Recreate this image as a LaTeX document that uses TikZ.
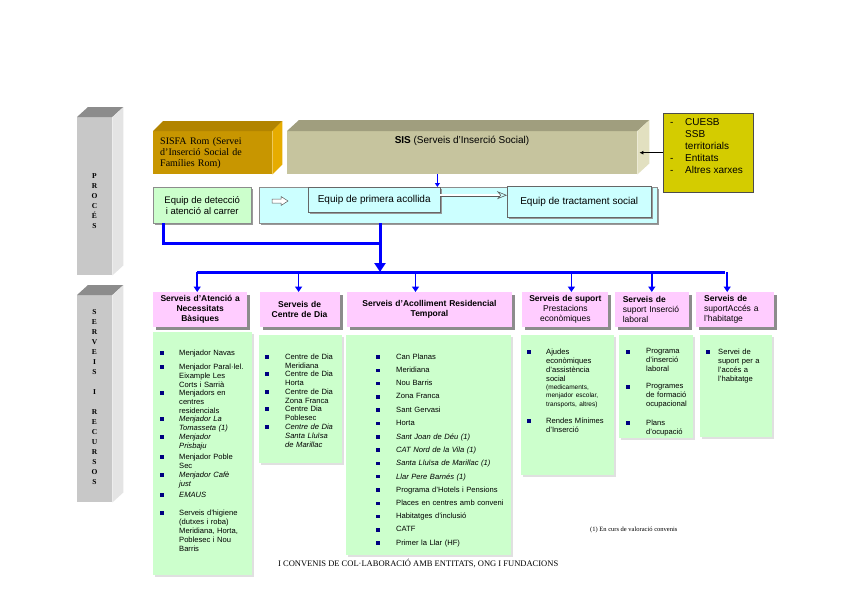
\documentclass[tikz,border=0pt]{standalone}
\usepackage{fontspec}
\setmainfont{Liberation Serif}
\setsansfont{Liberation Sans}
\usetikzlibrary{positioning,arrows.meta,shadows}

\definecolor{pinkhdr}{RGB}{255,204,255}
\definecolor{greenbody}{RGB}{204,255,204}
\definecolor{cyanfill}{RGB}{204,255,255}
\definecolor{yellowfill}{RGB}{212,204,0}
\definecolor{goldfront}{RGB}{200,150,0}
\definecolor{goldtop}{RGB}{178,132,0}
\definecolor{goldside}{RGB}{230,172,0}
\definecolor{khakifront}{RGB}{198,196,158}
\definecolor{khakitop}{RGB}{160,158,126}
\definecolor{khakiside}{RGB}{226,224,192}
\definecolor{barfront}{RGB}{200,200,200}
\definecolor{bartop}{RGB}{140,140,140}
\definecolor{barside}{RGB}{228,228,228}
\definecolor{bulletblue}{RGB}{0,0,128}

\begin{document}
\begin{tikzpicture}[
    x=1pt, y=-1pt,
    every node/.style={font=\sffamily},
    hdr/.style={fill=pinkhdr, minimum height=35pt, inner sep=3pt, align=center, anchor=north west,
        font=\sffamily\fontsize{8.5}{10}\selectfont,
        drop shadow={shadow xshift=3pt, shadow yshift=-3pt, fill=black!45, opacity=1}},
    body/.style={fill=greenbody, anchor=north west, inner sep=0pt,
        drop shadow={shadow xshift=1.5pt, shadow yshift=-1.5pt, fill=black!12, opacity=1}},
    item/.style={anchor=north west, inner sep=0pt, text width=80pt, align=left, font=\sffamily\fontsize{7.6}{9}\selectfont},
    bul/.style={fill=bulletblue, minimum size=3.5pt, inner sep=0pt},
    barbox/.style={fill=barfront, anchor=north west, inner sep=0pt},
    barlabel/.style={text width=20pt, align=center, inner sep=0pt, font=\rmfamily\bfseries\fontsize{7.5}{10}\selectfont},
    goldbox/.style={fill=goldfront, anchor=north west, inner xsep=7pt, text width=105pt, align=left, font=\rmfamily\fontsize{10}{11}\selectfont},
    khakibox/.style={fill=khakifront, anchor=north west, inner sep=0pt},
    extbox/.style={fill=yellowfill, draw=black!70, anchor=north west, inner sep=0pt},
    teambox/.style={fill=cyanfill, draw=black!60, anchor=north west, align=center, font=\sffamily\fontsize{10}{12}\selectfont,
        drop shadow={shadow xshift=2pt, shadow yshift=-2pt, fill=black!40, opacity=1}},
    busline/.style={draw=blue, line width=3pt},
    bigarrow/.style={draw=blue, line width=3pt, -{Triangle[length=9pt,width=11pt]}},
    droparrow/.style={draw=blue, line width=1.6pt, -{Triangle[length=5.5pt,width=7pt]}},
    thinarrow/.style={draw=blue, line width=1.6pt, -{Triangle[length=4pt,width=5pt]}},
    dblarrow/.style={draw=black!65, line width=0.6pt, double=white, double distance=2pt, -{Stealth[open, length=10pt, width=8pt]}}
]
\fill[white] (0,0) rectangle (848,600);
\useasboundingbox (0,0) rectangle (848,600);

% Side bars
\node[barbox, minimum width=35, minimum height=158] (procesBar) at (77,117) {};
\fill[bartop] (procesBar.north west) -- ++(11,-10) -- ([shift={(11,-10)}]procesBar.north east) -- (procesBar.north east) -- cycle;
\fill[barside] (procesBar.north east) -- ++(11,-10) -- ([shift={(11,-10)}]procesBar.south east) -- (procesBar.south east) -- cycle;
\node[barlabel] (procesTxt) at (94.5,201) {P\\R\\O\\C\\É\\S};

\node[barbox, minimum width=35, minimum height=207] (serveisBar) at (77,295) {};
\fill[bartop] (serveisBar.north west) -- ++(11,-10) -- ([shift={(11,-10)}]serveisBar.north east) -- (serveisBar.north east) -- cycle;
\fill[barside] (serveisBar.north east) -- ++(11,-10) -- ([shift={(11,-10)}]serveisBar.south east) -- (serveisBar.south east) -- cycle;
\node[barlabel] (serveisTxt) at (94.5,397) {S\\E\\R\\V\\E\\I\\S\\[10pt]I\\[10pt]R\\E\\C\\U\\R\\S\\O\\S};

% Top row
\node[goldbox, minimum width=119, minimum height=43] (sisfa) at (153,131) {SISFA Rom (Servei\\d'Inserció Social de\\Famílies Rom)};
\fill[goldtop] (sisfa.north west) -- ++(10,-10) -- ([shift={(10,-10)}]sisfa.north east) -- (sisfa.north east) -- cycle;
\fill[goldside] (sisfa.north east) -- ++(10,-10) -- ([shift={(10,-10)}]sisfa.south east) -- (sisfa.south east) -- cycle;

\node[khakibox, minimum width=350, minimum height=43] (sis) at (287,131) {};
\fill[khakitop] (sis.north west) -- ++(12,-11) -- ([shift={(12,-11)}]sis.north east) -- (sis.north east) -- cycle;
\fill[khakiside] (sis.north east) -- ++(12,-11) -- ([shift={(12,-11)}]sis.south east) -- (sis.south east) -- cycle;
\node[font=\sffamily\fontsize{10}{12}\selectfont] (sisTxt) at (462,141) {\textbf{SIS} (Serveis d'Inserció Social)};

\node[extbox, minimum width=90, minimum height=79] (xarxes) at (663,113) {};
\node[anchor=north west, inner sep=0pt, font=\sffamily\fontsize{10}{12}\selectfont] (xarxesTxt) at (670,117)
    {\begin{tabular}{@{}p{15pt}@{}l@{}}- & CUESB\\ & SSB\\ & territorials\\- & Entitats\\- & Altres xarxes\end{tabular}};

% Team row
\node[teambox, fill=greenbody, draw=black!45, minimum width=98, minimum height=36, font=\sffamily\fontsize{9.5}{11}\selectfont] (detec) at (153,187) {Equip de detecció\\i atenció al carrer};
\node[teambox, draw=black!45, minimum width=398, minimum height=36] (acollida) at (259,187) {};
\draw[fill=white, draw=black!65, line width=0.5pt] (272,199) -- (281,199) -- (281,196.5) -- (288,201) -- (281,205.5) -- (281,203) -- (272,203) -- cycle;
\node[teambox, minimum width=132, minimum height=25] (primera) at (308,187) {Equip de primera acollida};
\node[teambox, minimum width=144, minimum height=31] (tractament) at (507,186) {Equip de tractament social};

% Headers
\node[hdr, text width=88] (h1) at (153,292) {\bfseries Serveis d'Atenció a\\Necessitats\\Bàsiques};
\node[hdr, text width=74, right=12pt of h1] (h2) {\bfseries Serveis de\\Centre de Dia};
\node[hdr, text width=159, right=7pt of h2] (h3) {\bfseries Serveis d'Acolliment Residencial\\Temporal};
\node[hdr, text width=80, right=10pt of h3] (h4) {\textbf{Serveis de suport}\\Prestacions\\econòmiques};
\node[hdr, align=left, inner xsep=8pt, text width=58, right=6pt of h4] (h5) {\textbf{Serveis de}\\suport Inserció\\laboral};
\node[hdr, align=left, inner xsep=8pt, text width=62, right=7pt of h5] (h6) {\textbf{Serveis de}\\suportAccés a\\l'habitatge};

% Bodies
\node[body, minimum width=99, minimum height=243] (b1) at (153,332) {};
\node[body, minimum width=83, minimum height=128] (b2) at (259,335) {};
\node[body, minimum width=165, minimum height=220] (b3) at (346,335) {};
\node[body, minimum width=93, minimum height=140] (b4) at (521,335) {};
\node[body, minimum width=74, minimum height=103] (b5) at (619,335) {};
\node[body, minimum width=72, minimum height=102] (b6) at (700,335) {};

% Items
\foreach \yc/\txt [count=\i] in {
    353/{Menjador Navas},
    367/{Menjador Paral·lel.\\Eixample Les\\Corts i Sarrià},
    393/{Menjadors en\\centres\\residencials},
    419/{\itshape Menjador La\\Tomasseta (1)},
    437/{\itshape Menjador\\Prisbaju},
    457/{Menjador Poble\\Sec},
    475/{\itshape Menjador Cafè\\just},
    495/{\itshape EMAUS},
    513/{Serveis d'higiene\\(dutxes i roba)\\Meridiana, Horta,\\Poblesec i Nou\\Barris}}{
    \node[bul] (bulA\i) at (162,\yc) {};
    \node[item] (itemA\i) at (179,\yc-3.5) {\txt};
}
\foreach \yc/\txt [count=\i] in {
    357/{Centre de Dia\\Meridiana},
    374/{Centre de Dia\\Horta},
    392/{Centre de Dia\\Zona Franca},
    409/{Centre Dia\\Poblesec},
    427/{\itshape Centre de Dia\\Santa Lluïsa\\de Marillac}}{
    \node[bul] (bulB\i) at (267,\yc) {};
    \node[item] (itemB\i) at (285,\yc-3.5) {\txt};
}
\foreach \txt [count=\i] in {Can Planas, Meridiana, Nou Barris, Zona Franca, Sant Gervasi, Horta,
    {\itshape Sant Joan de Déu (1)}, {\itshape CAT Nord de la Vila (1)}, {\itshape Santa Lluïsa de Marillac (1)},
    {\itshape Llar Pere Barnés (1)}, Programa d'Hotels i Pensions, Places en centres amb conveni,
    Habitatges d'inclusió, CATF, Primer la Llar (HF)}{
    \node[bul] (bulC\i) at (378,357+\i*13.3-13.3) {};
    \node[item, text width=110pt] (itemC\i) at (396,357+\i*13.3-13.3-3.5) {\txt};
}
\node[bul] (bulD1) at (529,352) {};
\node[item] (itemD1) at (546,348.5) {Ajudes\\econòmiques\\d'assistència\\social\par
    \fontsize{6.5}{8}\selectfont(medicaments,\\menjador escolar,\\transports, altres)};
\node[bul] (bulD2) at (529,421) {};
\node[item] (itemD2) at (546,417.5) {Rendes Mínimes\\d'Inserció};
\foreach \yc/\txt [count=\i] in {
    352/{Programa\\d'inserció\\laboral},
    387/{Programes\\de formació\\ocupacional},
    423/{Plans\\d'ocupació}}{
    \node[bul] (bulE\i) at (628,\yc) {};
    \node[item] (itemE\i) at (646,\yc-3.5) {\txt};
}
\node[bul] (bulF1) at (708,352) {};
\node[item] (itemF1) at (718,348.5) {Servei de\\suport per a\\l'accés a\\l'habitatge};

% Connectors
\draw[-{Latex[length=4pt,width=4pt]}, line width=0.8pt] (xarxes.west) -- ([xshift=2pt]sis.east |- xarxes.west);
\draw[thinarrow] ([xshift=-3pt]primera.north east |- sis.south) -- ([xshift=-3pt]primera.north east);
\draw[dblarrow] ([yshift=4.5pt]primera.east) -- ([yshift=4.5pt]primera.east -| tractament.west);

\coordinate (join) at (380,243);
\coordinate (busL) at (197,272);
\coordinate (busR) at (725,272);
\draw[busline] ([xshift=10pt]detec.south west) |- (join);
\draw[bigarrow] (acollida.south -| join) -- (join |- busL);
\draw[busline] (busL) -- (busR);
\draw[droparrow] ([xshift=-3pt]h1.north |- busL) -- ([xshift=-3pt]h1.north);
\draw[droparrow] ([xshift=-1pt]h2.north |- busL) -- ([xshift=-1pt]h2.north);
\draw[droparrow] ([xshift=-14pt]h3.north |- busL) -- ([xshift=-14pt]h3.north);
\draw[droparrow] ([xshift=6pt]h4.north |- busL) -- ([xshift=6pt]h4.north);
\draw[droparrow] (h5.north |- busL) -- (h5.north);
\draw[droparrow] ([xshift=-8pt]h6.north |- busL) -- ([xshift=-8pt]h6.north);

% Notes
\node[anchor=west, inner sep=0pt, font=\rmfamily\fontsize{6.5}{8}\selectfont] (footnote) at (590,530) {(1) En curs de valoració convenis};
\node[anchor=west, inner sep=0pt, font=\rmfamily\fontsize{8.5}{10}\selectfont] (convenis) at (278,563) {I CONVENIS DE COL·LABORACIÓ AMB ENTITATS, ONG I FUNDACIONS};

\end{tikzpicture}
\end{document}
